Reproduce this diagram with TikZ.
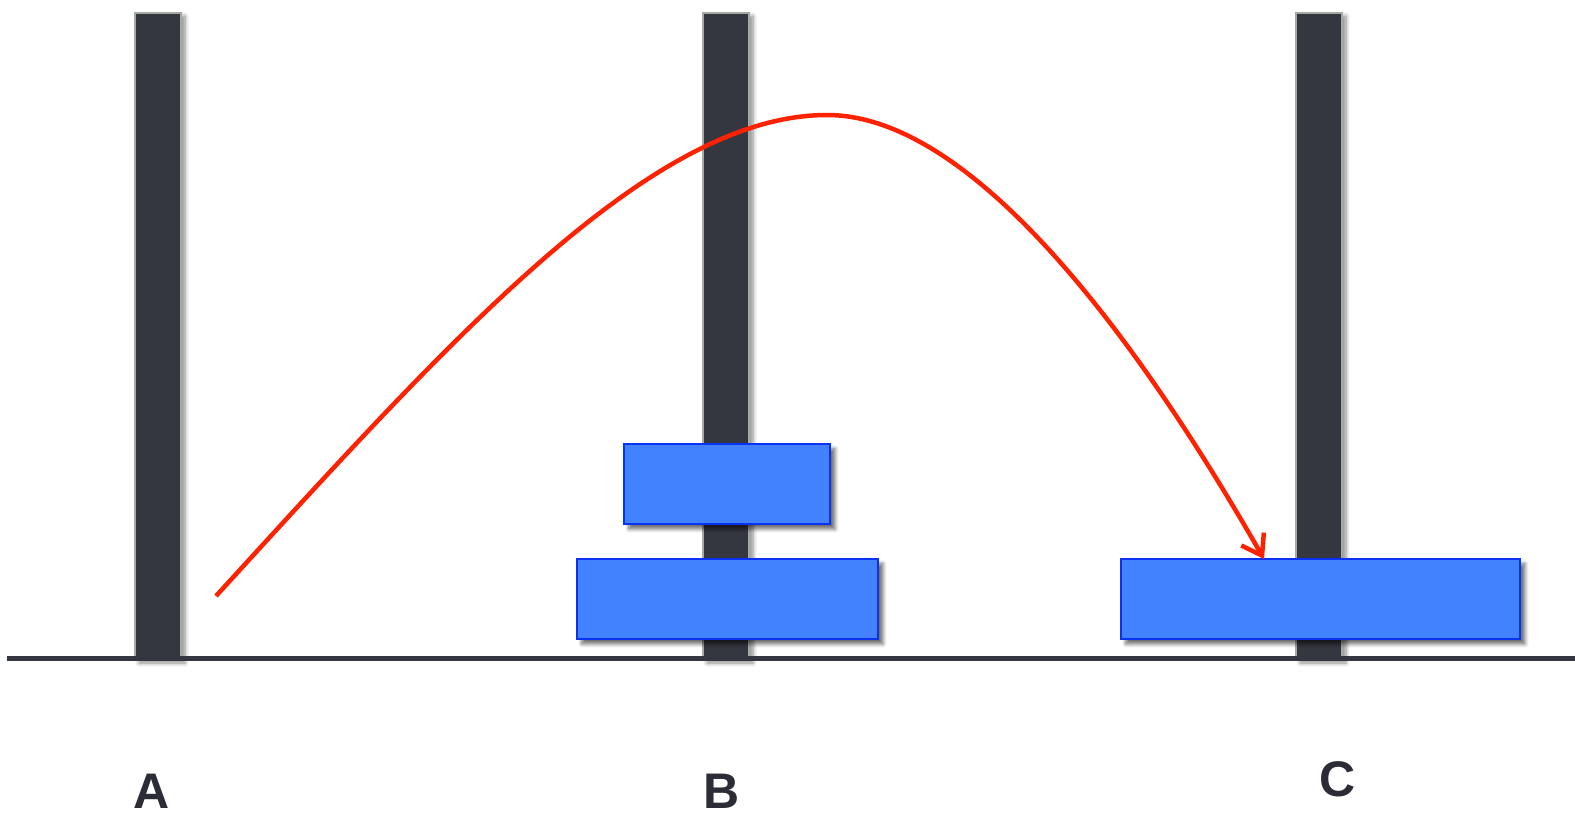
\documentclass[tikz,border=0pt]{standalone}
\usepackage{fontspec}
\setmainfont{Liberation Sans}
\usetikzlibrary{shadows.blur,arrows.meta}
\definecolor{poledark}{HTML}{343640}
\definecolor{poleedge}{HTML}{A3ABA3}
\definecolor{diskfill}{HTML}{4281FF}
\definecolor{diskedge}{HTML}{0A32F5}
\definecolor{arrowred}{HTML}{FF2200}
\definecolor{labeldark}{HTML}{2B2C36}
\tikzset{
  pole/.style={draw=poleedge, line width=1.5pt, fill=poledark, blur shadow={shadow xshift=4pt, shadow yshift=-3pt, shadow blur radius=4pt, shadow blur steps=6, shadow opacity=45}},
  disk/.style={draw=diskedge, line width=1.8pt, fill=diskfill, blur shadow={shadow xshift=5pt, shadow yshift=-5pt, shadow blur radius=4pt, shadow blur steps=6, shadow opacity=60}},
  lbl/.style={font=\bfseries\fontsize{50}{50}\selectfont, text=labeldark, inner sep=0pt},
  move/.style={draw=arrowred, line width=4.5pt, -{Straight Barb[length=19pt,width=26pt,line width=4.5pt]}}
}
\begin{document}
\begin{tikzpicture}[x=1pt,y=-1pt]
\useasboundingbox (0,0) rectangle (1575,812);
\clip (0,0) rectangle (1575,812);
% poles
\draw[pole] (135,13) rectangle (181,660);
\draw[pole] (703,13) rectangle (749,660);
\draw[pole] (1296,13) rectangle (1342,660);
% base line
\draw[draw=poledark, line width=5pt] (7,658) -- (1575,658);
% disks
\node[disk, minimum width=206pt, minimum height=80pt, inner sep=0pt, anchor=north west] (b1) at (623,443) {};
\node[disk, minimum width=301pt, minimum height=80pt, inner sep=0pt, anchor=north west] (b2) at (576,558) {};
\node[disk, minimum width=399pt, minimum height=80pt, inner sep=0pt, anchor=north west] (c1) at (1120,558) {};
% labels
\node[lbl, anchor=base] (la) at (152,808) {A};
\node[lbl, anchor=base] (lb) at (722,808) {B};
\node[lbl, anchor=base] (lc) at (1338,796) {C};
% move arrow
\coordinate (start) at (216,596);
\coordinate (peak) at (827,115);
\coordinate (tip) at (1264,559);
\draw[move] (start) .. controls (450,340) and (650,115) .. (peak) .. controls (980,115) and (1150,360) .. (tip);
\end{tikzpicture}
\end{document}
